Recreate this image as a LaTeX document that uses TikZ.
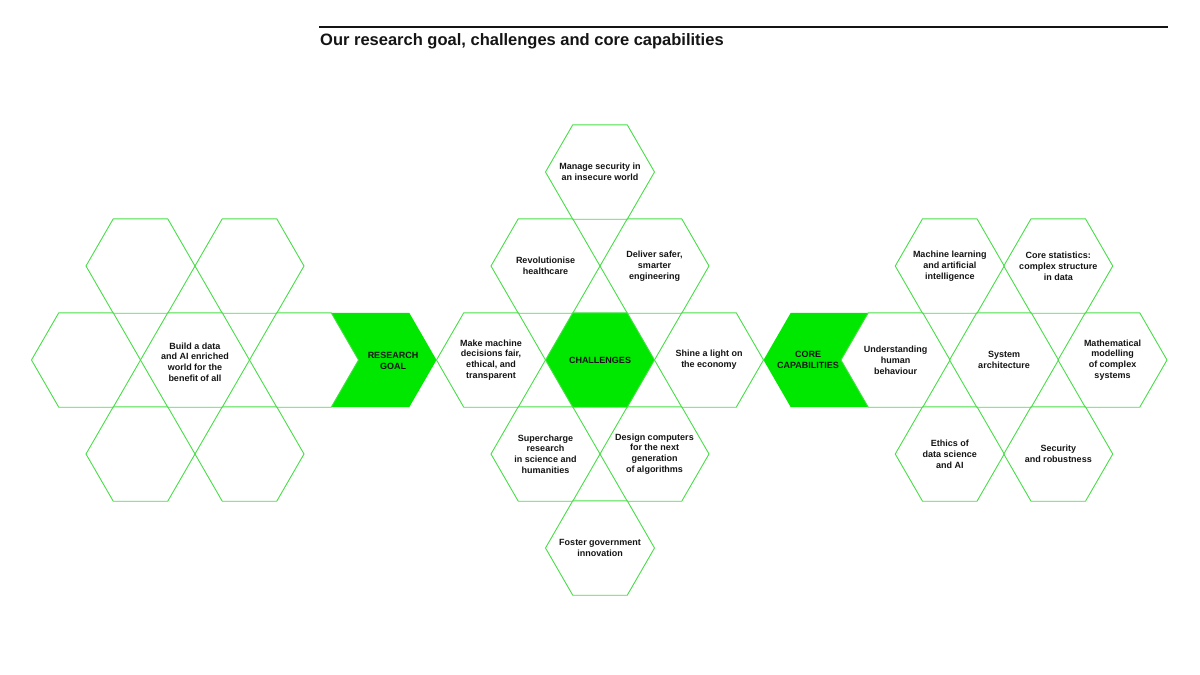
\documentclass[tikz,border=0pt]{standalone}
\usepackage{fontspec}
\setmainfont{Liberation Sans}
\usetikzlibrary{positioning, calc}

\definecolor{hexgreen}{RGB}{70,222,70}
\definecolor{fillgreen}{RGB}{0,232,0}
\definecolor{inkblack}{RGB}{20,20,20}

\tikzset{
    hexline/.style={draw=hexgreen, line width=0.9pt, line join=miter},
    hexfill/.style={fill=fillgreen},
    hextext/.style={font=\bfseries\fontsize{9}{10.8}\selectfont, align=center, text=inkblack, inner sep=0pt},
}

\begin{document}
\begin{tikzpicture}[x=1pt, y=-1pt, line join=round, line cap=round]
    \useasboundingbox (0,0) rectangle (1200,675);

    % goal cluster
    \coordinate (G1) at (86, 360);
    \coordinate (G2) at (195, 360);
    \coordinate (G3) at (304, 360);
    \coordinate (G4) at (140.5, 266);
    \coordinate (G5) at (249.5, 266);
    \coordinate (G6) at (140.5, 454);
    \coordinate (G7) at (249.5, 454);
    \coordinate (RG) at (393, 361);

    % challenges cluster
    \coordinate (CH) at (600, 360);
    \coordinate (MS) at (600, 172);
    \coordinate (RH) at (545.5, 266);
    \coordinate (DS) at (654.5, 266);
    \coordinate (MM) at (491, 360);
    \coordinate (SL) at (709, 360);
    \coordinate (SR) at (545.5, 454);
    \coordinate (DC) at (654.5, 454);
    \coordinate (FG) at (600, 548);

    % capabilities cluster
    \coordinate (CC) at (808, 360);
    \coordinate (UH) at (895.5, 360);
    \coordinate (SA) at (1004, 360);
    \coordinate (MC) at (1112.5, 360);
    \coordinate (ML) at (949.75, 266);
    \coordinate (CS) at (1058.25, 266);
    \coordinate (ED) at (949.75, 454);
    \coordinate (SE) at (1058.25, 454);

    % filled shapes
    \fill[hexfill] (CH) ++(54.5,0) -- ++(-27.25,47.2) -- ++(-54.5,0) -- ++(-27.25,-47.2) -- ++(27.25,-47.2) -- ++(54.5,0) -- cycle;
    \fill[hexfill] (331.25,312.8) -- (409.25,312.8) -- (436.5,360) -- (409.25,407.2) -- (331.25,407.2) -- (358.5,360) -- cycle;
    \fill[hexfill] (763.5,360) -- (790.75,312.8) -- (868.25,312.8) -- (841,360) -- (868.25,407.2) -- (790.75,407.2) -- cycle;

    % hexagon outlines
    \foreach \c in {G1,G2,G3,G4,G5,G6,G7,MS,RH,DS,MM,CH,SL,SR,DC,FG,UH,SA,MC,ML,CS,ED,SE}
        \draw[hexline] (\c) ++(54.5,0) -- ++(-27.25,47.2) -- ++(-54.5,0) -- ++(-27.25,-47.2) -- ++(27.25,-47.2) -- ++(54.5,0) -- cycle;

    % title
    \coordinate (R1) at (319, 27);
    \coordinate (R2) at (1168, 27);
    \draw[inkblack, line width=2.4pt, line cap=butt] (R1) -- (R2);
    \node[anchor=base west, inner sep=0pt, text=inkblack, font=\bfseries\fontsize{16.5}{19}\selectfont] (title) at (320, 45) {Our research goal, challenges and core capabilities};

    % texts
    \node[hextext] (goaltext) at ($(G2)+(0,2)$) {Build a data\\and AI enriched\\world for the\\benefit of all};
    \node[hextext] (goal) at (RG) {RESEARCH\\GOAL};

    \node[hextext] (security) at (MS) {Manage security in\\an insecure world};
    \node[hextext] (health) at (RH) {Revolutionise\\healthcare};
    \node[hextext] (engineering) at (DS) {Deliver safer,\\smarter\\engineering};
    \node[hextext] (decisions) at (MM) {Make machine\\decisions fair,\\ethical, and\\transparent};
    \node[hextext] (challenges) at (CH) {CHALLENGES};
    \node[hextext] (economy) at (SL) {Shine a light on\\the economy};
    \node[hextext] (science) at (SR) {Supercharge\\research\\in science and\\humanities};
    \node[hextext] (computers) at (DC) {Design computers\\for the next\\generation\\of algorithms};
    \node[hextext] (government) at (FG) {Foster government\\innovation};

    \node[hextext] (core) at (CC) {CORE\\CAPABILITIES};
    \node[hextext] (behaviour) at (UH) {Understanding\\human\\behaviour};
    \node[hextext] (architecture) at (SA) {System\\architecture};
    \node[hextext] (modelling) at (MC) {Mathematical\\modelling\\of complex\\systems};
    \node[hextext] (learning) at (ML) {Machine learning\\and artificial\\intelligence};
    \node[hextext] (statistics) at (CS) {Core statistics:\\complex structure\\in data};
    \node[hextext] (ethics) at (ED) {Ethics of\\data science\\and AI};
    \node[hextext] (robustness) at (SE) {Security\\and robustness};
\end{tikzpicture}
\end{document}
